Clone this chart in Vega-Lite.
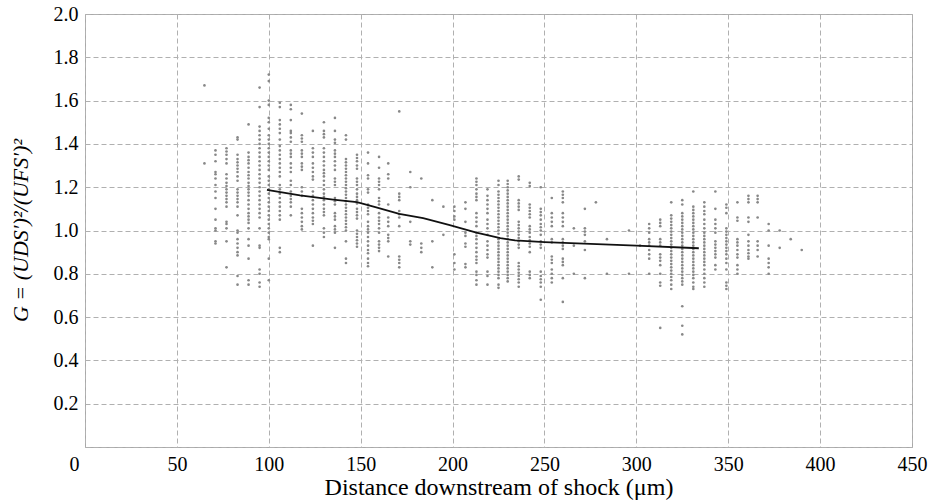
{
  "$schema": "https://vega.github.io/schema/vega-lite/v6.json",
  "width": 827,
  "height": 433,
  "autosize": {"type": "none"},
  "padding": {"left": 85, "top": 14, "right": 18, "bottom": 56},
  "background": "white",
  "config": {
    "font": "Liberation Serif, 'Times New Roman', Times, serif",
    "view": {"stroke": "#a8a8a8", "strokeWidth": 1},
    "axis": {
      "domain": false,
      "ticks": false,
      "grid": true,
      "gridColor": "#b0b0b0",
      "gridDash": [5, 3],
      "gridWidth": 1,
      "labelFont": "Liberation Serif, 'Times New Roman', Times, serif",
      "labelFontSize": 20,
      "labelColor": "#000000",
      "titleFont": "Liberation Serif, 'Times New Roman', Times, serif",
      "titleFontWeight": "normal",
      "titleColor": "#000000"
    }
  },
  "datasets": {
    "pts": [
      {"d":65,"g":1.67},{"d":65,"g":1.31},
      {"d":71,"g":1.37},{"d":71,"g":1.35},{"d":71,"g":1.32},{"d":71,"g":1.27},{"d":71,"g":1.26},{"d":71,"g":1.24},{"d":71,"g":1.21},{"d":71,"g":1.18},{"d":71,"g":1.15},{"d":71,"g":1.10},{"d":71,"g":1.05},{"d":71,"g":1.01},{"d":71,"g":1.00},{"d":71,"g":0.95},{"d":71,"g":0.94},
      {"d":77,"g":1.38},{"d":77,"g":1.365},{"d":77,"g":1.35},{"d":77,"g":1.33},{"d":77,"g":1.31},{"d":77,"g":1.26},{"d":77,"g":1.24},{"d":77,"g":1.22},{"d":77,"g":1.205},{"d":77,"g":1.19},{"d":77,"g":1.175},{"d":77,"g":1.16},{"d":77,"g":1.145},{"d":77,"g":1.13},{"d":77,"g":1.11},{"d":77,"g":1.04},{"d":77,"g":1.03},{"d":77,"g":1.01},{"d":77,"g":0.95},{"d":77,"g":0.83},
      {"d":83,"g":1.43},{"d":83,"g":1.42},{"d":83,"g":1.35},{"d":83,"g":1.33},{"d":83,"g":1.315},{"d":83,"g":1.30},{"d":83,"g":1.285},{"d":83,"g":1.27},{"d":83,"g":1.25},{"d":83,"g":1.23},{"d":83,"g":1.19},{"d":83,"g":1.175},{"d":83,"g":1.16},{"d":83,"g":1.145},{"d":83,"g":1.13},{"d":83,"g":1.11},{"d":83,"g":1.07},{"d":83,"g":1.00},{"d":83,"g":0.99},{"d":83,"g":0.96},{"d":83,"g":0.94},{"d":83,"g":0.92},{"d":83,"g":0.90},{"d":83,"g":0.885},{"d":83,"g":0.79},{"d":83,"g":0.75},
      {"d":89,"g":1.49},{"d":89,"g":1.36},{"d":89,"g":1.34},{"d":89,"g":1.325},{"d":89,"g":1.31},{"d":89,"g":1.29},{"d":89,"g":1.27},{"d":89,"g":1.255},{"d":89,"g":1.24},{"d":89,"g":1.22},{"d":89,"g":1.205},{"d":89,"g":1.19},{"d":89,"g":1.175},{"d":89,"g":1.16},{"d":89,"g":1.14},{"d":89,"g":1.12},{"d":89,"g":1.10},{"d":89,"g":1.08},{"d":89,"g":1.065},{"d":89,"g":1.05},{"d":89,"g":1.035},{"d":89,"g":1.01},{"d":89,"g":0.96},{"d":89,"g":0.93},{"d":89,"g":0.87},{"d":89,"g":0.77},{"d":89,"g":0.75},
      {"d":95,"g":1.66},{"d":95,"g":1.57},{"d":95,"g":1.48},{"d":95,"g":1.46},{"d":95,"g":1.44},{"d":95,"g":1.42},{"d":95,"g":1.40},{"d":95,"g":1.38},{"d":95,"g":1.36},{"d":95,"g":1.34},{"d":95,"g":1.32},{"d":95,"g":1.30},{"d":95,"g":1.28},{"d":95,"g":1.26},{"d":95,"g":1.24},{"d":95,"g":1.22},{"d":95,"g":1.20},{"d":95,"g":1.18},{"d":95,"g":1.16},{"d":95,"g":1.14},{"d":95,"g":1.12},{"d":95,"g":1.10},{"d":95,"g":1.08},{"d":95,"g":1.06},{"d":95,"g":1.01},{"d":95,"g":0.93},{"d":95,"g":0.92},{"d":95,"g":0.82},{"d":95,"g":0.80},{"d":95,"g":0.76},{"d":95,"g":0.74},
      {"d":100,"g":1.72},{"d":100,"g":1.69},{"d":100,"g":1.60},{"d":100,"g":1.58},{"d":100,"g":1.52},{"d":100,"g":1.50},{"d":100,"g":1.47},{"d":100,"g":1.44},{"d":100,"g":1.42},{"d":100,"g":1.40},{"d":100,"g":1.38},{"d":100,"g":1.36},{"d":100,"g":1.34},{"d":100,"g":1.32},{"d":100,"g":1.30},{"d":100,"g":1.28},{"d":100,"g":1.25},{"d":100,"g":1.23},{"d":100,"g":1.21},{"d":100,"g":1.19},{"d":100,"g":1.17},{"d":100,"g":1.15},{"d":100,"g":1.13},{"d":100,"g":1.11},{"d":100,"g":1.09},{"d":100,"g":1.07},{"d":100,"g":1.05},{"d":100,"g":1.03},{"d":100,"g":1.01},{"d":100,"g":0.99},{"d":100,"g":0.97},{"d":100,"g":0.96},{"d":100,"g":0.87},{"d":100,"g":0.77},
      {"d":106,"g":1.59},{"d":106,"g":1.57},{"d":106,"g":1.51},{"d":106,"g":1.49},{"d":106,"g":1.47},{"d":106,"g":1.45},{"d":106,"g":1.42},{"d":106,"g":1.39},{"d":106,"g":1.37},{"d":106,"g":1.35},{"d":106,"g":1.33},{"d":106,"g":1.31},{"d":106,"g":1.29},{"d":106,"g":1.27},{"d":106,"g":1.25},{"d":106,"g":1.21},{"d":106,"g":1.19},{"d":106,"g":1.17},{"d":106,"g":1.15},{"d":106,"g":1.13},{"d":106,"g":1.11},{"d":106,"g":1.09},{"d":106,"g":1.07},{"d":106,"g":1.05},{"d":106,"g":0.92},{"d":106,"g":0.90},
      {"d":112,"g":1.58},{"d":112,"g":1.56},{"d":112,"g":1.51},{"d":112,"g":1.46},{"d":112,"g":1.45},{"d":112,"g":1.43},{"d":112,"g":1.41},{"d":112,"g":1.37},{"d":112,"g":1.355},{"d":112,"g":1.34},{"d":112,"g":1.31},{"d":112,"g":1.29},{"d":112,"g":1.27},{"d":112,"g":1.23},{"d":112,"g":1.21},{"d":112,"g":1.18},{"d":112,"g":1.16},{"d":112,"g":1.145},{"d":112,"g":1.13},{"d":112,"g":1.11},{"d":112,"g":1.07},
      {"d":118,"g":1.54},{"d":118,"g":1.44},{"d":118,"g":1.425},{"d":118,"g":1.41},{"d":118,"g":1.37},{"d":118,"g":1.355},{"d":118,"g":1.34},{"d":118,"g":1.31},{"d":118,"g":1.295},{"d":118,"g":1.28},{"d":118,"g":1.20},{"d":118,"g":1.18},{"d":118,"g":1.16},{"d":118,"g":1.10},{"d":118,"g":1.08},{"d":118,"g":1.06},{"d":118,"g":1.04},{"d":118,"g":1.02},{"d":118,"g":1.005},
      {"d":124,"g":1.46},{"d":124,"g":1.38},{"d":124,"g":1.36},{"d":124,"g":1.34},{"d":124,"g":1.31},{"d":124,"g":1.29},{"d":124,"g":1.27},{"d":124,"g":1.25},{"d":124,"g":1.235},{"d":124,"g":1.18},{"d":124,"g":1.16},{"d":124,"g":1.14},{"d":124,"g":1.12},{"d":124,"g":1.10},{"d":124,"g":1.08},{"d":124,"g":1.06},{"d":124,"g":1.045},{"d":124,"g":1.03},{"d":124,"g":0.93},
      {"d":130,"g":1.50},{"d":130,"g":1.46},{"d":130,"g":1.445},{"d":130,"g":1.43},{"d":130,"g":1.38},{"d":130,"g":1.36},{"d":130,"g":1.34},{"d":130,"g":1.32},{"d":130,"g":1.30},{"d":130,"g":1.28},{"d":130,"g":1.265},{"d":130,"g":1.25},{"d":130,"g":1.23},{"d":130,"g":1.21},{"d":130,"g":1.19},{"d":130,"g":1.17},{"d":130,"g":1.155},{"d":130,"g":1.14},{"d":130,"g":1.12},{"d":130,"g":1.10},{"d":130,"g":1.085},{"d":130,"g":1.07},{"d":130,"g":1.01},{"d":130,"g":0.99},{"d":130,"g":0.97},
      {"d":136,"g":1.52},{"d":136,"g":1.46},{"d":136,"g":1.42},{"d":136,"g":1.405},{"d":136,"g":1.37},{"d":136,"g":1.355},{"d":136,"g":1.34},{"d":136,"g":1.32},{"d":136,"g":1.30},{"d":136,"g":1.28},{"d":136,"g":1.24},{"d":136,"g":1.225},{"d":136,"g":1.21},{"d":136,"g":1.15},{"d":136,"g":1.135},{"d":136,"g":1.12},{"d":136,"g":1.08},{"d":136,"g":1.065},{"d":136,"g":1.05},{"d":136,"g":1.02},{"d":136,"g":1.005},{"d":136,"g":0.99},{"d":136,"g":0.92},
      {"d":142,"g":1.44},{"d":142,"g":1.42},{"d":142,"g":1.33},{"d":142,"g":1.315},{"d":142,"g":1.30},{"d":142,"g":1.285},{"d":142,"g":1.27},{"d":142,"g":1.255},{"d":142,"g":1.24},{"d":142,"g":1.225},{"d":142,"g":1.21},{"d":142,"g":1.195},{"d":142,"g":1.18},{"d":142,"g":1.165},{"d":142,"g":1.15},{"d":142,"g":1.135},{"d":142,"g":1.12},{"d":142,"g":1.105},{"d":142,"g":1.09},{"d":142,"g":1.075},{"d":142,"g":1.06},{"d":142,"g":1.045},{"d":142,"g":1.03},{"d":142,"g":1.015},{"d":142,"g":1.00},{"d":142,"g":0.95},{"d":142,"g":0.87},{"d":142,"g":0.85},
      {"d":148,"g":1.35},{"d":148,"g":1.335},{"d":148,"g":1.32},{"d":148,"g":1.30},{"d":148,"g":1.285},{"d":148,"g":1.24},{"d":148,"g":1.225},{"d":148,"g":1.21},{"d":148,"g":1.19},{"d":148,"g":1.17},{"d":148,"g":1.155},{"d":148,"g":1.14},{"d":148,"g":1.125},{"d":148,"g":1.10},{"d":148,"g":1.085},{"d":148,"g":1.07},{"d":148,"g":1.055},{"d":148,"g":1.00},{"d":148,"g":0.985},{"d":148,"g":0.97},{"d":148,"g":0.955},{"d":148,"g":0.94},{"d":148,"g":0.925},
      {"d":154,"g":1.36},{"d":154,"g":1.31},{"d":154,"g":1.255},{"d":154,"g":1.24},{"d":154,"g":1.19},{"d":154,"g":1.175},{"d":154,"g":1.12},{"d":154,"g":1.105},{"d":154,"g":1.09},{"d":154,"g":1.075},{"d":154,"g":1.04},{"d":154,"g":1.02},{"d":154,"g":1.005},{"d":154,"g":0.99},{"d":154,"g":0.97},{"d":154,"g":0.95},{"d":154,"g":0.93},{"d":154,"g":0.91},{"d":154,"g":0.895},{"d":154,"g":0.87},{"d":154,"g":0.85},{"d":154,"g":0.835},
      {"d":160,"g":1.34},{"d":160,"g":1.29},{"d":160,"g":1.24},{"d":160,"g":1.225},{"d":160,"g":1.21},{"d":160,"g":1.19},{"d":160,"g":1.15},{"d":160,"g":1.135},{"d":160,"g":1.12},{"d":160,"g":1.08},{"d":160,"g":1.06},{"d":160,"g":1.045},{"d":160,"g":1.03},{"d":160,"g":1.01},{"d":160,"g":0.99},{"d":160,"g":0.95},{"d":160,"g":0.935},{"d":160,"g":0.92},{"d":160,"g":0.905},
      {"d":165,"g":1.31},{"d":165,"g":1.26},{"d":165,"g":1.24},{"d":165,"g":1.12},{"d":165,"g":1.06},{"d":165,"g":1.04},{"d":165,"g":1.02},{"d":165,"g":0.98},{"d":165,"g":0.965},{"d":165,"g":0.95},{"d":165,"g":0.88},
      {"d":171,"g":1.55},{"d":171,"g":1.17},{"d":171,"g":1.155},{"d":171,"g":1.14},{"d":171,"g":1.09},{"d":171,"g":1.075},{"d":171,"g":1.06},{"d":171,"g":1.02},{"d":171,"g":0.88},{"d":171,"g":0.865},{"d":171,"g":0.85},{"d":171,"g":0.83},
      {"d":177,"g":1.27},{"d":177,"g":1.20},{"d":177,"g":1.04},{"d":177,"g":0.95},{"d":177,"g":0.935},
      {"d":183,"g":1.24},{"d":183,"g":0.94},{"d":183,"g":0.92},{"d":183,"g":0.90},
      {"d":189,"g":1.14},{"d":189,"g":0.95},{"d":189,"g":0.83},
      {"d":195,"g":1.11},{"d":195,"g":0.98},
      {"d":201,"g":1.11},{"d":201,"g":1.09},{"d":201,"g":1.065},{"d":201,"g":1.05},{"d":201,"g":0.89},{"d":201,"g":0.85},{"d":201,"g":0.82},
      {"d":207,"g":1.13},{"d":207,"g":1.10},{"d":207,"g":1.04},{"d":207,"g":0.99},{"d":207,"g":0.975},{"d":207,"g":0.94},{"d":207,"g":0.925},{"d":207,"g":0.845},{"d":207,"g":0.83},
      {"d":213,"g":1.24},{"d":213,"g":1.225},{"d":213,"g":1.21},{"d":213,"g":1.19},{"d":213,"g":1.17},{"d":213,"g":1.155},{"d":213,"g":1.14},{"d":213,"g":1.08},{"d":213,"g":1.06},{"d":213,"g":1.04},{"d":213,"g":1.02},{"d":213,"g":0.99},{"d":213,"g":0.975},{"d":213,"g":0.96},{"d":213,"g":0.94},{"d":213,"g":0.92},{"d":213,"g":0.90},{"d":213,"g":0.88},{"d":213,"g":0.865},{"d":213,"g":0.85},{"d":213,"g":0.81},{"d":213,"g":0.795},{"d":213,"g":0.77},{"d":213,"g":0.75},
      {"d":219,"g":1.19},{"d":219,"g":1.16},{"d":219,"g":1.14},{"d":219,"g":1.12},{"d":219,"g":1.10},{"d":219,"g":1.08},{"d":219,"g":1.05},{"d":219,"g":1.03},{"d":219,"g":1.01},{"d":219,"g":0.98},{"d":219,"g":0.95},{"d":219,"g":0.93},{"d":219,"g":0.91},{"d":219,"g":0.89},{"d":219,"g":0.875},{"d":219,"g":0.81},{"d":219,"g":0.79},{"d":219,"g":0.75},
      {"d":225,"g":1.23},{"d":225,"g":1.21},{"d":225,"g":1.18},{"d":225,"g":1.165},{"d":225,"g":1.15},{"d":225,"g":1.135},{"d":225,"g":1.12},{"d":225,"g":1.105},{"d":225,"g":1.09},{"d":225,"g":1.075},{"d":225,"g":1.06},{"d":225,"g":1.045},{"d":225,"g":1.03},{"d":225,"g":1.015},{"d":225,"g":1.00},{"d":225,"g":0.985},{"d":225,"g":0.96},{"d":225,"g":0.945},{"d":225,"g":0.93},{"d":225,"g":0.915},{"d":225,"g":0.90},{"d":225,"g":0.885},{"d":225,"g":0.87},{"d":225,"g":0.855},{"d":225,"g":0.84},{"d":225,"g":0.825},{"d":225,"g":0.81},{"d":225,"g":0.795},{"d":225,"g":0.78},{"d":225,"g":0.75},{"d":225,"g":0.735},
      {"d":230,"g":1.23},{"d":230,"g":1.215},{"d":230,"g":1.20},{"d":230,"g":1.185},{"d":230,"g":1.17},{"d":230,"g":1.155},{"d":230,"g":1.14},{"d":230,"g":1.125},{"d":230,"g":1.11},{"d":230,"g":1.095},{"d":230,"g":1.08},{"d":230,"g":1.065},{"d":230,"g":1.05},{"d":230,"g":1.035},{"d":230,"g":1.02},{"d":230,"g":1.005},{"d":230,"g":0.99},{"d":230,"g":0.975},{"d":230,"g":0.96},{"d":230,"g":0.945},{"d":230,"g":0.93},{"d":230,"g":0.915},{"d":230,"g":0.90},{"d":230,"g":0.885},{"d":230,"g":0.87},{"d":230,"g":0.855},{"d":230,"g":0.84},{"d":230,"g":0.825},{"d":230,"g":0.81},{"d":230,"g":0.795},{"d":230,"g":0.78},{"d":230,"g":0.765},
      {"d":236,"g":1.25},{"d":236,"g":1.235},{"d":236,"g":1.14},{"d":236,"g":1.125},{"d":236,"g":1.11},{"d":236,"g":1.095},{"d":236,"g":1.04},{"d":236,"g":1.025},{"d":236,"g":1.01},{"d":236,"g":0.995},{"d":236,"g":0.98},{"d":236,"g":0.965},{"d":236,"g":0.95},{"d":236,"g":0.935},{"d":236,"g":0.92},{"d":236,"g":0.85},{"d":236,"g":0.835},{"d":236,"g":0.82},{"d":236,"g":0.805},{"d":236,"g":0.79},{"d":236,"g":0.775},{"d":236,"g":0.76},{"d":236,"g":0.74},
      {"d":242,"g":1.22},{"d":242,"g":1.205},{"d":242,"g":1.12},{"d":242,"g":1.105},{"d":242,"g":1.09},{"d":242,"g":1.075},{"d":242,"g":1.06},{"d":242,"g":1.02},{"d":242,"g":1.005},{"d":242,"g":0.99},{"d":242,"g":0.97},{"d":242,"g":0.955},{"d":242,"g":0.94},{"d":242,"g":0.925},{"d":242,"g":0.90},{"d":242,"g":0.81},{"d":242,"g":0.795},{"d":242,"g":0.78},
      {"d":248,"g":1.20},{"d":248,"g":1.10},{"d":248,"g":1.085},{"d":248,"g":1.07},{"d":248,"g":1.05},{"d":248,"g":1.03},{"d":248,"g":1.015},{"d":248,"g":1.00},{"d":248,"g":0.98},{"d":248,"g":0.95},{"d":248,"g":0.935},{"d":248,"g":0.92},{"d":248,"g":0.81},{"d":248,"g":0.79},{"d":248,"g":0.775},{"d":248,"g":0.76},{"d":248,"g":0.74},{"d":248,"g":0.68},
      {"d":254,"g":1.15},{"d":254,"g":1.08},{"d":254,"g":1.06},{"d":254,"g":1.04},{"d":254,"g":1.02},{"d":254,"g":0.96},{"d":254,"g":0.945},{"d":254,"g":0.88},{"d":254,"g":0.865},{"d":254,"g":0.85},{"d":254,"g":0.82},{"d":254,"g":0.80},{"d":254,"g":0.78},{"d":254,"g":0.76},
      {"d":260,"g":1.18},{"d":260,"g":1.165},{"d":260,"g":1.15},{"d":260,"g":1.13},{"d":260,"g":1.08},{"d":260,"g":1.06},{"d":260,"g":1.04},{"d":260,"g":1.02},{"d":260,"g":0.96},{"d":260,"g":0.945},{"d":260,"g":0.93},{"d":260,"g":0.915},{"d":260,"g":0.87},{"d":260,"g":0.855},{"d":260,"g":0.84},{"d":260,"g":0.78},{"d":260,"g":0.67},
      {"d":266,"g":1.01},{"d":266,"g":0.93},{"d":266,"g":0.80},
      {"d":272,"g":1.10},{"d":272,"g":1.01},{"d":272,"g":0.995},{"d":272,"g":0.98},{"d":272,"g":0.95},{"d":272,"g":0.91},{"d":272,"g":0.78},
      {"d":278,"g":1.13},
      {"d":284,"g":0.96},{"d":284,"g":0.80},
      {"d":296,"g":1.00},{"d":296,"g":0.80},
      {"d":302,"g":0.93},
      {"d":307,"g":1.03},{"d":307,"g":1.01},{"d":307,"g":0.99},{"d":307,"g":0.96},{"d":307,"g":0.945},{"d":307,"g":0.93},{"d":307,"g":0.91},{"d":307,"g":0.89},{"d":307,"g":0.87},{"d":307,"g":0.80},
      {"d":313,"g":1.05},{"d":313,"g":1.035},{"d":313,"g":1.02},{"d":313,"g":0.96},{"d":313,"g":0.945},{"d":313,"g":0.93},{"d":313,"g":0.89},{"d":313,"g":0.875},{"d":313,"g":0.86},{"d":313,"g":0.84},{"d":313,"g":0.80},{"d":313,"g":0.76},{"d":313,"g":0.745},{"d":313,"g":0.55},
      {"d":319,"g":1.13},{"d":319,"g":1.07},{"d":319,"g":1.055},{"d":319,"g":1.04},{"d":319,"g":1.025},{"d":319,"g":1.01},{"d":319,"g":0.995},{"d":319,"g":0.98},{"d":319,"g":0.965},{"d":319,"g":0.95},{"d":319,"g":0.935},{"d":319,"g":0.92},{"d":319,"g":0.905},{"d":319,"g":0.89},{"d":319,"g":0.875},{"d":319,"g":0.86},{"d":319,"g":0.845},{"d":319,"g":0.83},{"d":319,"g":0.815},{"d":319,"g":0.80},{"d":319,"g":0.785},{"d":319,"g":0.77},{"d":319,"g":0.75},{"d":319,"g":0.73},
      {"d":325,"g":1.14},{"d":325,"g":1.12},{"d":325,"g":1.08},{"d":325,"g":1.065},{"d":325,"g":1.05},{"d":325,"g":1.035},{"d":325,"g":1.02},{"d":325,"g":1.005},{"d":325,"g":0.99},{"d":325,"g":0.975},{"d":325,"g":0.96},{"d":325,"g":0.945},{"d":325,"g":0.93},{"d":325,"g":0.915},{"d":325,"g":0.90},{"d":325,"g":0.885},{"d":325,"g":0.87},{"d":325,"g":0.855},{"d":325,"g":0.84},{"d":325,"g":0.825},{"d":325,"g":0.81},{"d":325,"g":0.795},{"d":325,"g":0.78},{"d":325,"g":0.765},{"d":325,"g":0.75},{"d":325,"g":0.65},{"d":325,"g":0.56},{"d":325,"g":0.52},
      {"d":331,"g":1.18},{"d":331,"g":1.11},{"d":331,"g":1.095},{"d":331,"g":1.08},{"d":331,"g":1.065},{"d":331,"g":1.05},{"d":331,"g":1.035},{"d":331,"g":1.02},{"d":331,"g":1.005},{"d":331,"g":0.99},{"d":331,"g":0.975},{"d":331,"g":0.96},{"d":331,"g":0.945},{"d":331,"g":0.93},{"d":331,"g":0.915},{"d":331,"g":0.90},{"d":331,"g":0.885},{"d":331,"g":0.87},{"d":331,"g":0.855},{"d":331,"g":0.84},{"d":331,"g":0.825},{"d":331,"g":0.81},{"d":331,"g":0.795},{"d":331,"g":0.78},{"d":331,"g":0.76},{"d":331,"g":0.74},{"d":331,"g":0.73},
      {"d":337,"g":1.13},{"d":337,"g":1.11},{"d":337,"g":1.09},{"d":337,"g":1.075},{"d":337,"g":1.05},{"d":337,"g":1.03},{"d":337,"g":1.01},{"d":337,"g":0.99},{"d":337,"g":0.975},{"d":337,"g":0.96},{"d":337,"g":0.945},{"d":337,"g":0.93},{"d":337,"g":0.915},{"d":337,"g":0.90},{"d":337,"g":0.885},{"d":337,"g":0.87},{"d":337,"g":0.855},{"d":337,"g":0.84},{"d":337,"g":0.82},{"d":337,"g":0.80},{"d":337,"g":0.78},{"d":337,"g":0.76},{"d":337,"g":0.74},
      {"d":343,"g":1.18},{"d":343,"g":1.10},{"d":343,"g":1.05},{"d":343,"g":1.03},{"d":343,"g":1.01},{"d":343,"g":0.99},{"d":343,"g":0.95},{"d":343,"g":0.935},{"d":343,"g":0.92},{"d":343,"g":0.905},{"d":343,"g":0.89},{"d":343,"g":0.875},{"d":343,"g":0.84},{"d":343,"g":0.82},
      {"d":349,"g":1.12},{"d":349,"g":1.105},{"d":349,"g":1.08},{"d":349,"g":1.01},{"d":349,"g":0.995},{"d":349,"g":0.98},{"d":349,"g":0.965},{"d":349,"g":0.95},{"d":349,"g":0.935},{"d":349,"g":0.92},{"d":349,"g":0.905},{"d":349,"g":0.89},{"d":349,"g":0.87},{"d":349,"g":0.85},{"d":349,"g":0.82},{"d":349,"g":0.76},{"d":349,"g":0.745},{"d":349,"g":0.73},
      {"d":355,"g":1.13},{"d":355,"g":1.06},{"d":355,"g":1.045},{"d":355,"g":0.96},{"d":355,"g":0.945},{"d":355,"g":0.93},{"d":355,"g":0.91},{"d":355,"g":0.89},{"d":355,"g":0.875},{"d":355,"g":0.84},{"d":355,"g":0.82},{"d":355,"g":0.80},
      {"d":361,"g":1.16},{"d":361,"g":1.145},{"d":361,"g":1.13},{"d":361,"g":1.06},{"d":361,"g":1.04},{"d":361,"g":0.98},{"d":361,"g":0.95},{"d":361,"g":0.93},{"d":361,"g":0.91},{"d":361,"g":0.895},{"d":361,"g":0.88},{"d":361,"g":0.87},
      {"d":366,"g":1.16},{"d":366,"g":1.145},{"d":366,"g":1.13},{"d":366,"g":1.06},{"d":366,"g":0.95},{"d":366,"g":0.93},{"d":366,"g":0.91},{"d":366,"g":0.88},
      {"d":372,"g":1.03},{"d":372,"g":1.00},{"d":372,"g":0.93},{"d":372,"g":0.87},{"d":372,"g":0.85},{"d":372,"g":0.83},{"d":372,"g":0.80},
      {"d":378,"g":1.00},{"d":378,"g":0.92},
      {"d":384,"g":0.96},
      {"d":390,"g":0.91}
    ],
    "fit": [
      {"d":99,"g":1.188},{"d":117,"g":1.162},{"d":135,"g":1.143},{"d":148,"g":1.131},{"d":158,"g":1.108},{"d":171,"g":1.077},{"d":184,"g":1.057},{"d":198,"g":1.026},{"d":213,"g":0.99},{"d":226,"g":0.965},{"d":234,"g":0.954},{"d":250,"g":0.946},{"d":300,"g":0.93},{"d":334,"g":0.918}
    ]
  },
  "layer": [
    {
      "data": {"name": "pts"},
      "mark": {"type": "circle", "size": 7, "color": "#888888", "opacity": 1},
      "encoding": {
        "x": {
          "field": "d", "type": "quantitative",
          "scale": {"domain": [0, 450], "nice": false, "zero": false},
          "axis": {
            "values": [0, 50, 100, 150, 200, 250, 300, 350, 400, 450],
            "labelPadding": 7,
            "labelOffset": {"condition": {"test": "datum.value === 0", "value": -11}, "value": 0},
            "labelFlush": false,
            "labelOverlap": false,
            "title": "Distance downstream of shock (μm)",
            "titleFontSize": 24,
            "titleBaseline": "alphabetic",
            "titleY": 47
          }
        },
        "y": {
          "field": "g", "type": "quantitative",
          "scale": {"domain": [0, 2], "nice": false, "zero": false},
          "axis": {
            "values": [0, 0.2, 0.4, 0.6, 0.8, 1.0, 1.2, 1.4, 1.6, 1.8, 2.0],
            "labelExpr": "datum.value === 0 ? '' : format(datum.value, '.1f')",
            "labelPadding": 7,
            "labelFlush": false,
            "labelOverlap": false,
            "title": "G = (UDS′)²/(UFS′)²",
            "titleFontSize": 22,
            "titleFontStyle": "italic",
            "titleBaseline": "alphabetic",
            "titleAngle": -90,
            "titleX": -58,
            "titleY": 216,
            "titleAlign": "center"
          }
        }
      }
    },
    {
      "data": {"name": "fit"},
      "mark": {"type": "line", "color": "#111111", "strokeWidth": 1.8},
      "encoding": {
        "x": {"field": "d", "type": "quantitative"},
        "y": {"field": "g", "type": "quantitative"}
      }
    }
  ]
}
